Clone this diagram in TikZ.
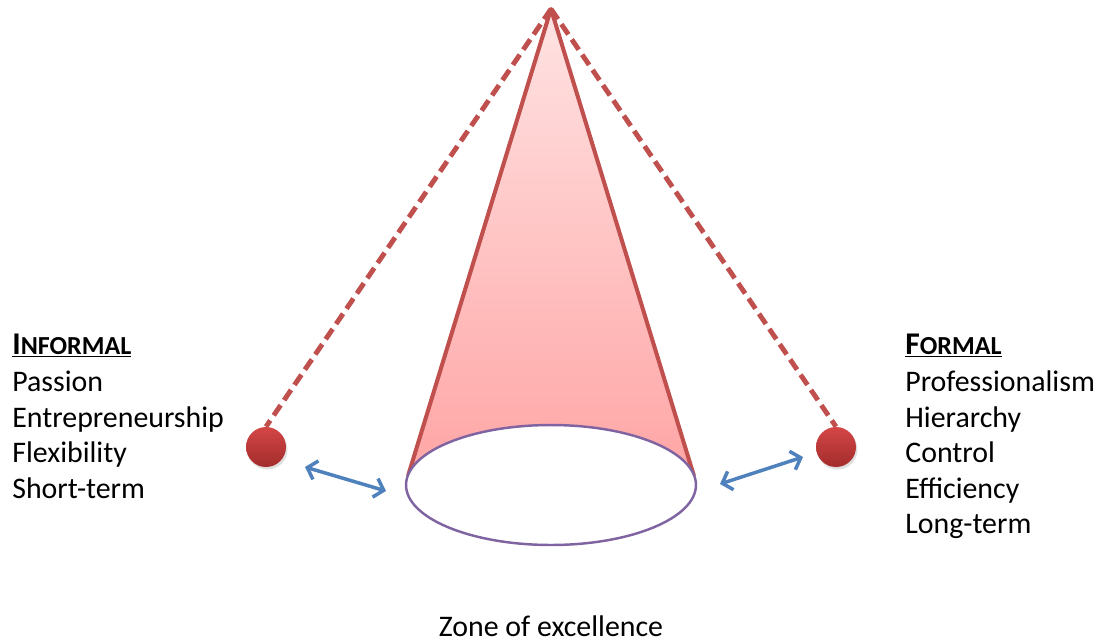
\documentclass[tikz,border=0pt]{standalone}
\usepackage{fontspec}
\setmainfont{Carlito}
\usetikzlibrary{arrows.meta,shapes.geometric,shadows}
\definecolor{conered}{HTML}{C0504D}
\definecolor{conetop}{HTML}{FFE3E3}
\definecolor{conebot}{HTML}{FFA5A5}
\definecolor{balltop}{HTML}{D44646}
\definecolor{ballbot}{HTML}{A32C2C}
\definecolor{ellpurple}{HTML}{8064A2}
\definecolor{arrblue}{HTML}{4F81BD}
\newcommand{\txtsize}{\fontsize{17pt}{21pt}\selectfont}
\newcommand{\ttlsize}{\fontsize{18pt}{21pt}\selectfont}
\newcommand{\scpart}[1]{{\fontsize{14.8pt}{16pt}\selectfont #1}}
\begin{document}
\begin{tikzpicture}[x=0.02cm,y=-0.02cm,
  lbl/.style={anchor=base west,inner sep=0pt,font=\txtsize},
  ttl/.style={anchor=base west,inner sep=0pt,font=\ttlsize\bfseries},
  ballnode/.style={circle,minimum size=0.8cm,inner sep=0pt,top color=balltop,bottom color=ballbot,
    drop shadow={shadow xshift=0.03cm,shadow yshift=-0.05cm,opacity=0.25}},
  dashline/.style={draw=conered,line width=2.8pt,dash pattern=on 7pt off 3.5pt},
  twoarrow/.style={draw=arrblue,line width=2pt,{Straight Barb[length=5pt,width=11pt]}-{Straight Barb[length=5pt,width=11pt]}}]
\useasboundingbox (0,0) rectangle (1100,643);
% cone
\coordinate (apex) at (551,9);
\coordinate (tl) at (408,476);
\coordinate (tr) at (694,476);
\fill[top color=conetop,bottom color=conebot] (apex) -- (tl) -- (tr) -- cycle;
\draw[conered,line width=2.3pt,line join=round] (tl) -- (apex) -- (tr);
\node[ellipse,draw=ellpurple,fill=white,line width=1.4pt,minimum width=5.8cm,minimum height=2.4cm,inner sep=0pt] (zone) at (551,485) {};
% balls
\node[ballnode] (lball) at (266,447) {};
\node[ballnode] (rball) at (836,447) {};
\draw[dashline] (apex) -- (lball.north);
\draw[dashline] (apex) -- (rball.north);
% arrows
\coordinate (la1) at (305,467);
\coordinate (la2) at (386,491);
\coordinate (ra1) at (720,484);
\coordinate (ra2) at (803,457);
\draw[twoarrow] (la1) -- (la2);
\draw[twoarrow] (ra1) -- (ra2);
% left text
\node[ttl] (inf) at (12,354) {\underline{I\scpart{NFORMAL}}};
\node[lbl] (l1) at (12,391.5) {Passion};
\node[lbl] (l2) at (12,427) {Entrepreneurship};
\node[lbl] (l3) at (12,462.5) {Flexibility};
\node[lbl] (l4) at (12,498) {Short-term};
% right text
\node[ttl] (frm) at (905,354) {\underline{F\scpart{ORMAL}}};
\node[lbl] (r1) at (905,391.5) {Professionalism};
\node[lbl] (r2) at (905,427) {Hierarchy};
\node[lbl] (r3) at (905,462.5) {Control};
\node[lbl] (r4) at (905,498) {Efficiency};
\node[lbl] (r5) at (905,533.5) {Long-term};
% bottom label
\node[font=\txtsize,anchor=base,inner sep=0pt] (zlbl) at (551,636.5) {Zone of excellence};
\end{tikzpicture}
\end{document}
